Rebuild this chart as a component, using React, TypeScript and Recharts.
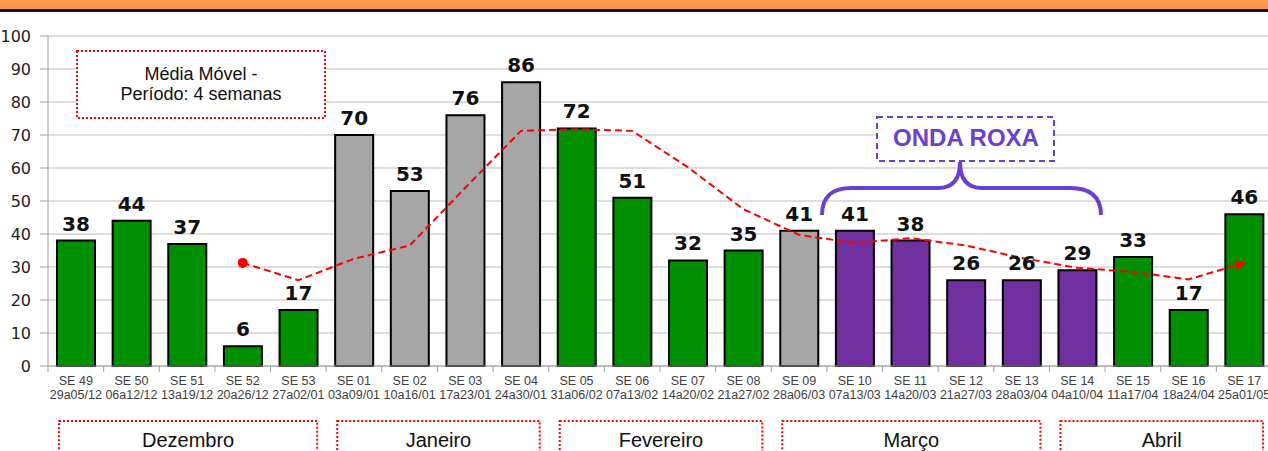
import React from "react";
import { ComposedChart, Bar, Line, XAxis, YAxis, CartesianGrid, Cell, LabelList } from "recharts";

const weeks = ["SE 49","SE 50","SE 51","SE 52","SE 53","SE 01","SE 02","SE 03","SE 04","SE 05","SE 06","SE 07","SE 08","SE 09","SE 10","SE 11","SE 12","SE 13","SE 14","SE 15","SE 16","SE 17"];
const periods = ["29a05/12","06a12/12","13a19/12","20a26/12","27a02/01","03a09/01","10a16/01","17a23/01","24a30/01","31a06/02","07a13/02","14a20/02","21a27/02","28a06/03","07a13/03","14a20/03","21a27/03","28a03/04","04a10/04","11a17/04","18a24/04","25a01/05"];
const cases = [38,44,37,6,17,70,53,76,86,72,51,32,35,41,41,38,26,26,29,33,17,46];
const groups = ["g","g","g","g","g","c","c","c","c","g","g","g","g","c","p","p","p","p","p","g","g","g"];
const movingAvg = [null,null,null,31.25,26,32.5,36.5,54,71.25,71.75,71.25,60.25,47.5,39.75,37.25,38.75,36.5,32.75,29.75,28.5,26.25,31.25];
const months = [
  { name: "Dezembro", start: 0, count: 5 },
  { name: "Janeiro", start: 5, count: 4 },
  { name: "Fevereiro", start: 9, count: 4 },
  { name: "Março", start: 13, count: 5 },
  { name: "Abril", start: 18, count: 4 },
];
const yTicks = [0,10,20,30,40,50,60,70,80,90,100];

const COLORS: Record<string, string> = { g: "#008F00", c: "#A6A6A6", p: "#7030A0" };
const PURPLE = "#6B3FD1";

const data = weeks.map((w, i) => ({ week: w, period: periods[i], cases: cases[i], mm: movingAvg[i], grp: groups[i] }));

const CW = 1272;
const CH = 451;
const LEFT = 48;
const TOP = 36;
const PLOT_W = CW - LEFT;
const PLOT_H = 330;
const BAND = PLOT_W / weeks.length;

const XTick = (props: any) => {
  const { x, y, payload, index } = props;
  const i = index ?? payload.index;
  return (
    <g>
      <line x1={x - BAND / 2} x2={x - BAND / 2} y1={y} y2={y + 6} stroke="#A0A0A0" />
      {i === weeks.length - 1 && <line x1={x + BAND / 2} x2={x + BAND / 2} y1={y} y2={y + 6} stroke="#A0A0A0" />}
      <text x={x} y={y + 19} textAnchor="middle" fontSize={12.5} fontFamily="Liberation Sans, Arial" fill="#404040">{payload.value}</text>
      <text x={x} y={y + 33} textAnchor="middle" fontSize={12.5} fontFamily="Liberation Sans, Arial" fill="#404040">{periods[i]}</text>
    </g>
  );
};

const BarLabel = (props: any) => {
  const { x, y, width, value } = props;
  return (
    <text x={x + width / 2} y={y - 10} textAnchor="middle" fontSize={20} fontWeight="bold" fontFamily="DejaVu Sans" fill="#111">{value}</text>
  );
};

const MMDot = (props: any) => {
  const { cx, cy, index } = props;
  if (cx == null || cy == null || movingAvg[index] == null) return <g key={"d" + index} />;
  if (index === 3) return <circle key={"d" + index} cx={cx} cy={cy} r={5} fill="#FF0000" />;
  if (index === weeks.length - 1) {
    const prev = movingAvg[index - 1] as number;
    const cur = movingAvg[index] as number;
    const dy = -((cur - prev) / 100) * PLOT_H;
    const ang = (Math.atan2(dy, BAND) * 180) / Math.PI;
    return (
      <g key={"d" + index} transform={`translate(${cx},${cy}) rotate(${ang})`}>
        <polygon points="2,0 -9,-5 -9,5" fill="#FF0000" />
      </g>
    );
  }
  return <g key={"d" + index} />;
};

export default function App() {
  const bx = (i: number) => LEFT + i * BAND;
  return (
    <div style={{ position: "absolute", left: 0, top: 0, width: 1268, height: 451, overflow: "hidden", background: "#fff" }}>
      <ComposedChart width={CW} height={CH} data={data} margin={{ top: TOP, right: 0, left: 0, bottom: CH - TOP - PLOT_H - 50 }}>
        <CartesianGrid vertical={false} stroke="#BDBDBD" />
        <XAxis dataKey="week" height={50} tick={<XTick />} tickLine={false} tickSize={0} tickMargin={0} axisLine={{ stroke: "#A0A0A0" }} interval={0} />
        <YAxis width={LEFT} domain={[0, 100]} ticks={yTicks} tickSize={8} tickMargin={9} axisLine={{ stroke: "#A0A0A0" }} tickLine={{ stroke: "#A0A0A0" }} tick={{ fontSize: 16, fontFamily: "DejaVu Sans", fill: "#222" }} />
        <Bar dataKey="cases" barSize={38} stroke="#000" strokeWidth={2} isAnimationActive={false}>
          {data.map((d, i) => <Cell key={i} fill={COLORS[d.grp]} />)}
          <LabelList dataKey="cases" content={<BarLabel />} />
        </Bar>
        <Line dataKey="mm" type="linear" stroke="#FF0000" strokeWidth={2} strokeDasharray="7 4" dot={<MMDot />} activeDot={false} connectNulls={false} isAnimationActive={false} />
      </ComposedChart>
      <svg width={1268} height={451} style={{ position: "absolute", left: 0, top: 0, pointerEvents: "none" }}>
        <rect x={0} y={0} width={1268} height={9} fill="#FF9650" />
        <rect x={0} y={9} width={1268} height={3} fill="#111" />
        <rect x={77} y={51} width={248} height={67} fill="#fff" stroke="#FF0000" strokeWidth={2} strokeDasharray="2 2" />
        <text x={201} y={80} textAnchor="middle" fontSize={18} fontFamily="Liberation Sans, Arial" fill="#111">Média Móvel -</text>
        <text x={201} y={100} textAnchor="middle" fontSize={18} fontFamily="Liberation Sans, Arial" fill="#111">Período: 4 semanas</text>
        <rect x={877} y={117} width={177} height={44} fill="#fff" stroke={PURPLE} strokeWidth={2} strokeDasharray="6 4" />
        <text x={966} y={146} textAnchor="middle" fontSize={24} fontWeight="bold" fontFamily="Liberation Sans, Arial" fill={PURPLE}>ONDA ROXA</text>
        <path d="M822,215 C822,196 832,188 852,188 L938,188 C954,188 960,178 960,162 C960,178 966,188 982,188 L1070,188 C1090,188 1101,196 1101,215" fill="none" stroke={PURPLE} strokeWidth={4} />
        {months.map((m) => {
          const x0 = bx(m.start) + 11;
          const x1 = bx(m.start + m.count) - 9;
          return (
            <g key={m.name}>
              <rect x={x0} y={421} width={x1 - x0} height={40} fill="none" stroke="#FF0000" strokeWidth={2} strokeDasharray="2 2" />
              <text x={(x0 + x1) / 2} y={447} textAnchor="middle" fontSize={20} fontFamily="Liberation Sans, Arial" fill="#111">{m.name}</text>
            </g>
          );
        })}
      </svg>
    </div>
  );
}
